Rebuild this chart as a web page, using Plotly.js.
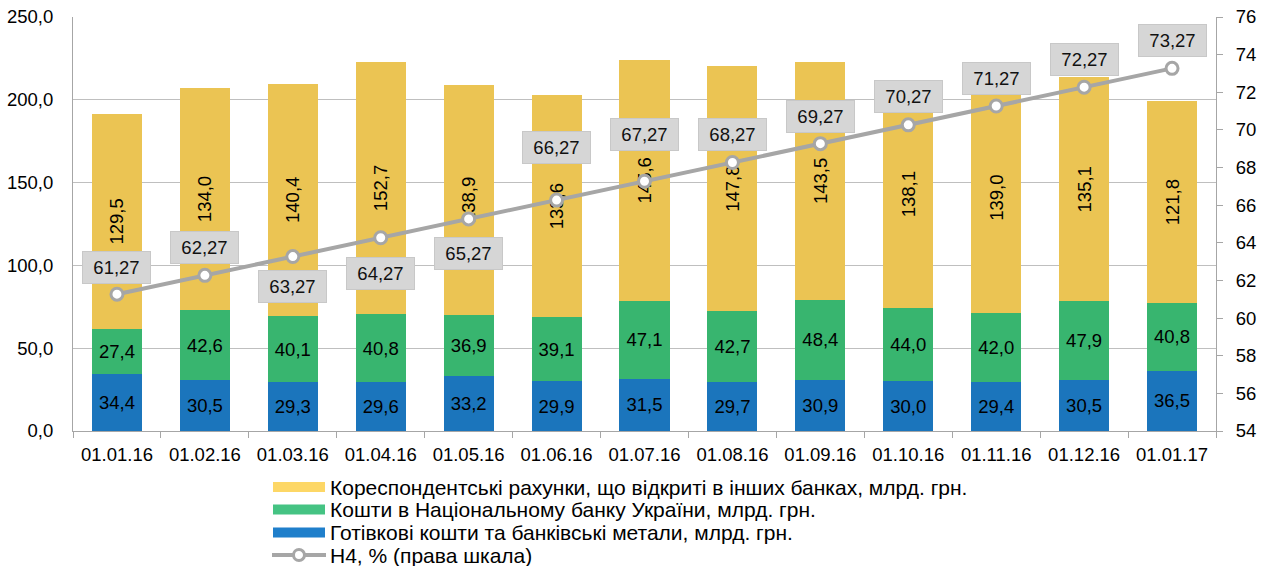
<!DOCTYPE html>
<html>
<head>
<meta charset="utf-8">
<script src="https://cdn.plot.ly/plotly-3.0.1.min.js"></script>
<style>html,body{margin:0;padding:0;background:#fff;}#chart{width:1267px;height:566px;}</style>
</head>
<body>
<div id="chart"></div>
<script>
var categories = ["01.01.16","01.02.16","01.03.16","01.04.16","01.05.16","01.06.16","01.07.16","01.08.16","01.09.16","01.10.16","01.11.16","01.12.16","01.01.17"];
var cashMetals = [34.4,30.5,29.3,29.6,33.2,29.9,31.5,29.7,30.9,30.0,29.4,30.5,36.5];
var nbuFunds = [27.4,42.6,40.1,40.8,36.9,39.1,47.1,42.7,48.4,44.0,42.0,47.9,40.8];
var corrAccounts = [129.5,134.0,140.4,152.7,138.9,133.6,145.6,147.8,143.5,138.1,139.0,135.1,121.8];
var h4 = [61.27,62.27,63.27,64.27,65.27,66.27,67.27,68.27,69.27,70.27,71.27,72.27,73.27];
var seriesNames = [
  "Кореспондентські рахунки, що відкриті в інших банках, млрд. грн.",
  "Кошти в Національному банку України, млрд. грн.",
  "Готівкові кошти та банківські метали, млрд. грн.",
  "Н4, % (права шкала)"
];

// label offsets (pixels) for the H4 value boxes – styling only
var h4LabelShift = [27,28,-30,-36,-35,53,47,28,27,28,28,28,28];

var FONT = "Liberation Sans, Arial, sans-serif";
var cYellow = "#EBC453", cGreen = "#38B56F", cBlue = "#1B75BC", cLine = "#A6A6A6";
var legendColors = ["#FDD766", "#45C383", "#1F7FCB"];

// plot geometry (pixels)
var W = 1267, H = 566, ML = 73, MR = 51, MT = 17, MB = 135;
var PW = W - ML - MR, PH = H - MT - MB;
function px2x(px) { return (px - ML) / PW; }
function py2y(py) { return (H - MB - py) / PH; }

function barTrace(vals, color, angle, name) {
  return {
    type: "bar", x: categories, y: vals, marker: {color: color}, name: name,
    texttemplate: "%{y:.1f}", textposition: "inside", insidetextanchor: "middle",
    textangle: angle, constraintext: "none",
    textfont: {family: FONT, size: 18.5, color: "#000"},
    showlegend: false, hoverinfo: "skip"
  };
}

var traces = [
  barTrace(cashMetals, cBlue, 0, seriesNames[2]),
  barTrace(nbuFunds, cGreen, 0, seriesNames[1]),
  barTrace(corrAccounts, cYellow, -90, seriesNames[0]),
  {
    type: "scatter", mode: "lines+markers", x: categories, y: h4, yaxis: "y2",
    line: {color: cLine, width: 4},
    marker: {size: 12, color: "#fff", line: {color: cLine, width: 3}},
    name: seriesNames[3], showlegend: false, hoverinfo: "skip"
  }
];

var annotations = categories.map(function(c, i) {
  return {
    x: c, y: h4[i], xref: "x", yref: "y2",
    text: h4[i].toFixed(2).replace(".", ","),
    showarrow: false, yshift: h4LabelShift[i],
    font: {family: FONT, size: 18.5, color: "#111"},
    bgcolor: "#D6D6D6", bordercolor: "#C8C8C8", borderwidth: 1,
    width: 65, height: 29
  };
});

// custom legend (matches the wide swatches of the original)
var legendRows = [487, 509.5, 532.5, 555];
var shapes = [];
for (var k = 0; k < 3; k++) {
  shapes.push({
    type: "rect", xref: "paper", yref: "paper",
    x0: px2x(273), x1: px2x(325), y0: py2y(legendRows[k] - 5), y1: py2y(legendRows[k] + 5),
    fillcolor: legendColors[k], line: {width: 0}
  });
}
shapes.push({
  type: "line", xref: "paper", yref: "paper",
  x0: px2x(272), x1: px2x(326), y0: py2y(legendRows[3]), y1: py2y(legendRows[3]),
  line: {color: cLine, width: 4}
});
shapes.push({
  type: "circle", xref: "paper", yref: "paper",
  x0: px2x(293.5), x1: px2x(304.5), y0: py2y(legendRows[3] - 5.5), y1: py2y(legendRows[3] + 5.5),
  fillcolor: "#fff", line: {color: cLine, width: 3}
});
for (var j = 0; j < 4; j++) {
  annotations.push({
    xref: "paper", yref: "paper", x: px2x(328), y: py2y(legendRows[j]),
    xanchor: "left", yanchor: "middle", showarrow: false,
    text: seriesNames[j], font: {family: FONT, size: 21, color: "#000"}
  });
}

var layout = {
  width: W, height: H,
  margin: {l: ML, r: MR, t: MT, b: MB},
  paper_bgcolor: "#fff", plot_bgcolor: "#fff",
  barmode: "stack", bargap: 0.43,
  separators: ", ",
  font: {family: FONT, size: 18.5, color: "#000"},
  showlegend: false,
  xaxis: {
    type: "category", range: [-0.5, categories.length - 0.5],
    showline: true, linecolor: "#A6A6A6", linewidth: 1,
    ticks: "outside", tickson: "boundaries", ticklen: 6, tickcolor: "#A6A6A6",
    ticklabelstandoff: 7,
    tickfont: {family: FONT, size: 18.5, color: "#000"}, showgrid: false, fixedrange: true
  },
  yaxis: {
    range: [0, 250], dtick: 50, tickformat: ".1f",
    showline: true, linecolor: "#A6A6A6", linewidth: 1,
    gridcolor: "#BFBFBF", gridwidth: 1, zeroline: false, ticks: "",
    ticklabelstandoff: 15,
    tickfont: {family: FONT, size: 18.5, color: "#000"}, fixedrange: true
  },
  yaxis2: {
    overlaying: "y", side: "right", range: [54, 76], dtick: 2,
    showline: true, linecolor: "#A6A6A6", linewidth: 1,
    ticks: "outside", ticklen: 6, tickcolor: "#A6A6A6",
    showgrid: false, zeroline: false, ticklabelstandoff: 9,
    tickfont: {family: FONT, size: 18.5, color: "#000"}, fixedrange: true
  },
  shapes: shapes,
  annotations: annotations
};

Plotly.newPlot("chart", traces, layout, {staticPlot: true, displayModeBar: false});
</script>
</body>
</html>
